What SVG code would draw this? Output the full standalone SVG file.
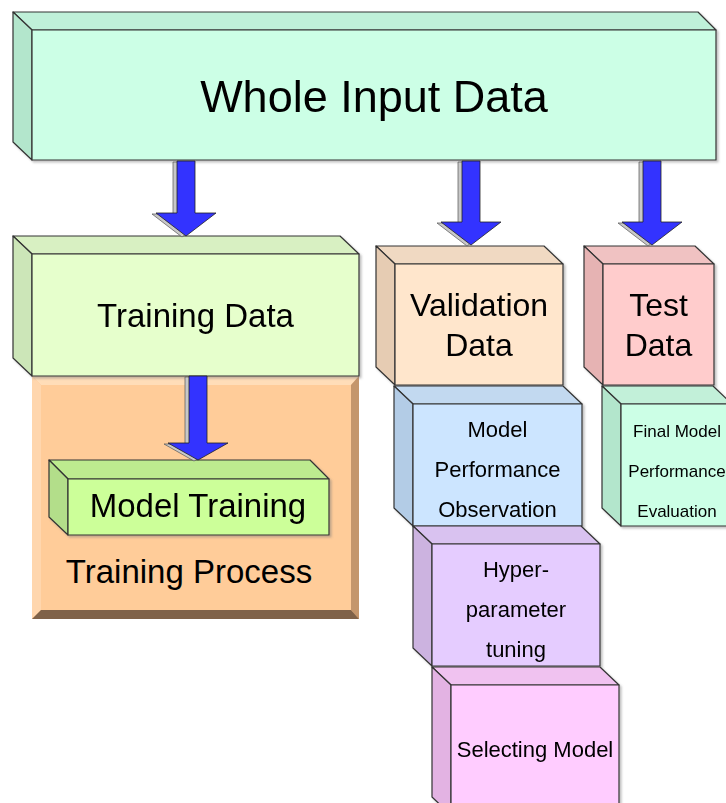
<svg xmlns="http://www.w3.org/2000/svg" width="726" height="803" viewBox="0 0 726 803">
<defs>
<filter id="sh" x="-5%" y="-5%" width="115%" height="115%"><feDropShadow dx="2" dy="2" stdDeviation="1" flood-color="#777" flood-opacity="0.45"/></filter>
<style>
.b{stroke:#333;stroke-width:1.2;stroke-linejoin:round}
.t{font-family:"Liberation Sans",Arial,sans-serif;fill:#000;text-anchor:middle}
.ar{fill:#3333FF;stroke:#222;stroke-width:0.8;stroke-linejoin:miter}
.as{fill:#C8C8C8;stroke:#555;stroke-width:0.7}
</style>
</defs>
<rect width="726" height="803" fill="#fff"/>

<g id="whole-input" filter="url(#sh)">
<polygon class="b" fill="#BFF0D9" points="13,12 698,12 716,30 32,30"/>
<polygon class="b" fill="#B3E6CC" points="13,12 32,30 32,160 13,142"/>
<rect class="b" fill="#CCFFE6" x="32" y="30" width="684" height="130"/>
<text class="t" x="374" y="112" font-size="45">Whole Input Data</text>
</g>

<g id="training-process">
<rect x="32" y="372" width="327" height="247" fill="#FFC993"/>
<polygon fill="#FFDDB8" points="32,376 359,376 351,385 41,385"/>
<polygon fill="#FFD6AD" points="32,376 41,385 41,610 32,619"/>
<polygon fill="#C4966C" points="359,376 359,619 351,610 351,385"/>
<polygon fill="#7F6249" points="32,619 359,619 351,610 41,610"/>
<rect x="41" y="385" width="310" height="225" fill="#FFCC99"/>
<text class="t" x="189" y="583" font-size="33">Training Process</text>
</g>

<g id="training-data" filter="url(#sh)">
<polygon class="b" fill="#D8F0C2" points="13,236 340,236 359,254 32,254"/>
<polygon class="b" fill="#CCE6B8" points="13,236 32,254 32,376 13,358"/>
<rect class="b" fill="#E6FFCC" x="32" y="254" width="327" height="122"/>
<text class="t" x="195.5" y="327" font-size="33">Training Data</text>
</g>

<g id="model-training" filter="url(#sh)">
<polygon class="b" fill="#BDEB8F" points="49,460 310,460 329,479 68,479"/>
<polygon class="b" fill="#B3DE8A" points="49,460 68,479 68,535 49,517"/>
<rect class="b" fill="#CCFF99" x="68" y="479" width="261" height="56"/>
<text class="t" x="198" y="517" font-size="33">Model Training</text>
</g>

<g id="validation-data" filter="url(#sh)">
<polygon class="b" fill="#F0D9C2" points="376,246 544,246 563,264 395,264"/>
<polygon class="b" fill="#E6CCB3" points="376,246 395,264 395,385 376,367"/>
<rect class="b" fill="#FFE6CC" x="395" y="264" width="168" height="121"/>
<text class="t" x="479" y="316" font-size="32">Validation</text>
<text class="t" x="479" y="356" font-size="32">Data</text>
</g>

<g id="test-data" filter="url(#sh)">
<polygon class="b" fill="#F0C2C2" points="584,246 695,246 714,264 603,264"/>
<polygon class="b" fill="#E6B3B3" points="584,246 603,264 603,385 584,367"/>
<rect class="b" fill="#FFCCCC" x="603" y="264" width="111" height="121"/>
<text class="t" x="658.5" y="316" font-size="32">Test</text>
<text class="t" x="658.5" y="356" font-size="32">Data</text>
</g>

<g id="model-performance" filter="url(#sh)">
<polygon class="b" fill="#C2D9F0" points="394,386 563,386 582,404 413,404"/>
<polygon class="b" fill="#B3CCE6" points="394,386 413,404 413,526 394,508"/>
<rect class="b" fill="#CCE5FF" x="413" y="404" width="169" height="122"/>
<text class="t" x="497.5" y="437" font-size="22">Model</text>
<text class="t" x="497.5" y="477" font-size="22">Performance</text>
<text class="t" x="497.5" y="517" font-size="22">Observation</text>
</g>

<g id="final-evaluation" filter="url(#sh)">
<polygon class="b" fill="#C2F0D9" points="602,386 713,386 732,404 621,404"/>
<polygon class="b" fill="#B3E6CC" points="602,386 621,404 621,526 602,508"/>
<rect class="b" fill="#CCFFE6" x="621" y="404" width="111" height="122"/>
<text class="t" x="677" y="437" font-size="17">Final Model</text>
<text class="t" x="677" y="477" font-size="17">Performance</text>
<text class="t" x="677" y="517" font-size="17">Evaluation</text>
</g>

<g id="hyperparameter" filter="url(#sh)">
<polygon class="b" fill="#D9C2F0" points="413,526 581,526 600,544 432,544"/>
<polygon class="b" fill="#CCB3E0" points="413,526 432,544 432,666 413,648"/>
<rect class="b" fill="#E5CCFF" x="432" y="544" width="168" height="122"/>
<text class="t" x="516" y="577" font-size="22">Hyper-</text>
<text class="t" x="516" y="617" font-size="22">parameter</text>
<text class="t" x="516" y="657" font-size="22">tuning</text>
</g>

<g id="selecting-model" filter="url(#sh)">
<polygon class="b" fill="#F0C2F0" points="432,667 600,667 619,685 451,685"/>
<polygon class="b" fill="#E3B3E3" points="432,667 451,685 451,815 432,797"/>
<rect class="b" fill="#FFCCFF" x="451" y="685" width="168" height="130"/>
<text class="t" x="535" y="757" font-size="22">Selecting Model</text>
</g>

<g id="connectors">
<path class="as" d="M173,162 H191 V214 H212 L182,237 L152,214 H173 Z"/>
<path class="ar" d="M177,161 H195 V213 H216 L186,236 L156,213 H177 Z"/>
<path class="as" d="M458,162 H476 V223 H497 L467,246 L437,223 H458 Z"/>
<path class="ar" d="M462,161 H480 V222 H501 L471,245 L441,222 H462 Z"/>
<path class="as" d="M639,162 H657 V223 H678 L648,246 L618,223 H639 Z"/>
<path class="ar" d="M643,161 H661 V222 H682 L652,245 L622,222 H643 Z"/>
<path class="as" d="M185,377 H203 V444 H224 L194,461 L164,444 H185 Z"/>
<path class="ar" d="M189,376 H207 V443 H228 L198,460 L168,443 H189 Z"/>
</g>
</svg>
